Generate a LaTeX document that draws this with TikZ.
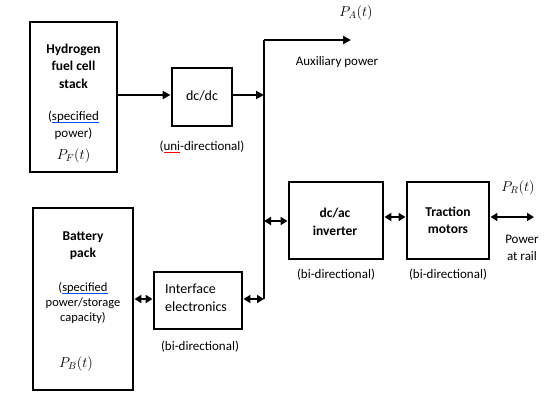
\documentclass[tikz,border=0pt]{standalone}
\usepackage{fontspec}
\setmainfont{Carlito}
\usetikzlibrary{arrows.meta}
\newsavebox\myulbox
\newcommand{\blueul}[1]{\sbox\myulbox{#1}\rlap{\textcolor{blue!70!cyan}{\rule[-2pt]{\wd\myulbox}{0.7pt}}}\usebox\myulbox}
\newcommand{\redul}[1]{\sbox\myulbox{#1}\rlap{\textcolor{red}{\rule[-2.2pt]{\wd\myulbox}{0.5pt}}}\usebox\myulbox}
\begin{document}
\begin{tikzpicture}[x=1pt,y=-1pt,
  blk/.style={draw,line width=2.9pt,inner sep=0pt},
  txt/.style={inner sep=0pt,font=\fontsize{13}{17}\selectfont,align=center},
  mtxt/.style={inner sep=0pt,font=\fontsize{14.5}{17}\selectfont},
  btxt/.style={txt,font=\fontsize{13.5}{17.5}\selectfont\bfseries},
  wire/.style={line width=2.7pt},
  tip/.style={-{Triangle[length=8pt,width=8pt]}},
  bitip/.style={{Triangle[length=7pt,width=8pt]}-{Triangle[length=7pt,width=8pt]}}]
\useasboundingbox[fill=white] (0,0) rectangle (555,402);
% boxes
\node[blk,minimum width=87pt,minimum height=150pt] (H) at (73.5,97) {};
\node[blk,minimum width=60pt,minimum height=58pt] (D) at (202,97) {};
\node[blk,minimum width=100pt,minimum height=182pt] (B) at (83,299) {};
\node[blk,minimum width=88pt,minimum height=57pt] (I) at (198,300.5) {};
\node[blk,minimum width=94pt,minimum height=77pt] (C) at (336,220.5) {};
\node[blk,minimum width=82pt,minimum height=77pt] (T) at (448,220.5) {};
% bus
\coordinate (bt) at (264,40);
\coordinate (bb) at (264,299);
\coordinate (ae) at (351,40);
\coordinate (re) at (534,217);
\draw[wire] (bt) -- (bb);
\draw[wire,tip] (bt) -- (ae);
\draw[wire,tip] (H.east |- 0,95) -- (D.west |- 0,95);
\draw[wire,tip] (D.east |- 0,95) -- (bt |- 0,95);
\draw[wire,bitip] (B.east |- 0,299) -- (I.west |- 0,299);
\draw[wire,bitip] (I.east |- 0,299) -- (bb);
\draw[wire,bitip] (bt |- 0,221) -- (C.west |- 0,221);
\draw[wire,bitip] (C.east |- 0,217) -- (T.west |- 0,217);
\draw[wire,bitip] (T.east |- 0,217) -- (re);
% texts in hydrogen box
\node[btxt] (h1) at (73.5,66) {Hydrogen\\fuel cell\\stack};
\node[txt] (h2) at (73.5,125) {(\blueul{specified}\\power)};
\node[mtxt] (h3) at (73.5,156) {$P_F(t)$};
\node[txt,font=\fontsize{14}{17}\selectfont] (d1) at (202,96) {dc/dc};
\node[txt] (d2) at (202,147) {(\redul{uni}-directional)};
% battery
\node[btxt] (b1) at (83,245.5) {Battery\\pack};
\node[txt,font=\fontsize{12.5}{15}\selectfont] (b2) at (83,303) {(\blueul{specified}\\power/storage\\capacity)};
\node[mtxt] (b3) at (76,364) {$P_B(t)$};
\node[txt,align=left,anchor=west,font=\fontsize{14}{18}\selectfont] (i1) at (165,298) {Interface\\electronics};
\node[txt] (i2) at (200,347) {(bi-directional)};
% right
\node[btxt] (c1) at (335,222) {dc/ac\\inverter};
\node[txt] (c2) at (336,275) {(bi-directional)};
\node[btxt] (t1) at (448,220.5) {Traction\\motors};
\node[txt] (t2) at (448,275) {(bi-directional)};
\node[mtxt] (pa) at (356,13) {$P_A(t)$};
\node[txt] (aux) at (337,62) {Auxiliary power};
\node[mtxt] (pr) at (518,188) {$P_R(t)$};
\node[txt] (rail) at (522,248) {Power\\at rail};
\end{tikzpicture}
\end{document}
